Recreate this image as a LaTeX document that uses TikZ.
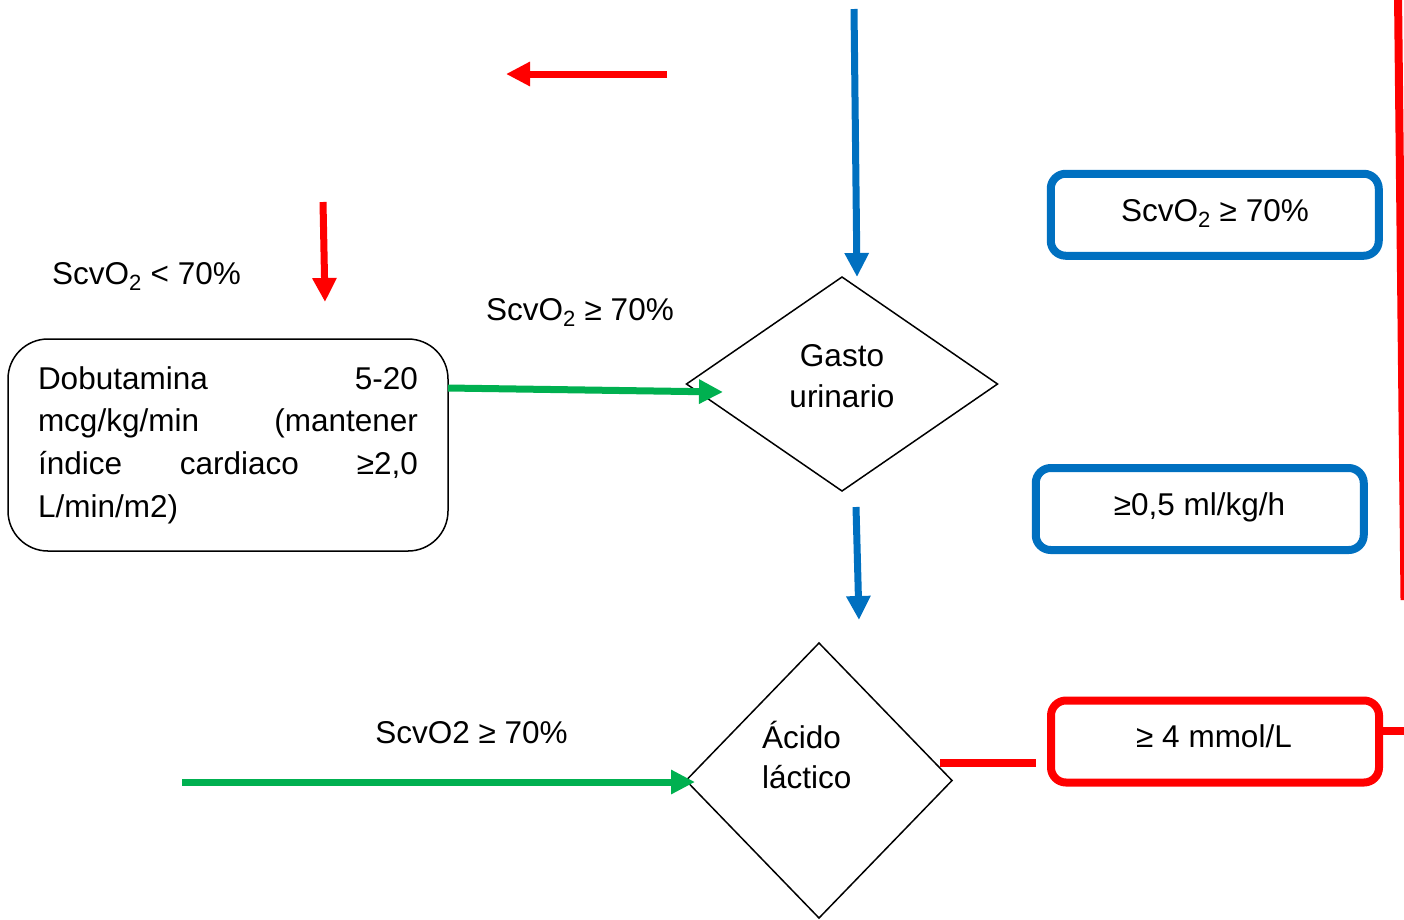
\documentclass[tikz,border=0pt]{standalone}
\usepackage{fontspec}
\setmainfont{Liberation Sans}
\usetikzlibrary{arrows.meta,shapes.geometric}
\definecolor{pblue}{RGB}{0,112,192}
\definecolor{pgreen}{RGB}{0,176,80}
\definecolor{pred}{RGB}{255,0,0}

\begin{document}
\begin{tikzpicture}[x=1pt,y=-1pt,
  txt/.style={font=\fontsize{31.5}{42.7}\selectfont, inner sep=0pt},
  conn/.style={line width=7pt, -{Triangle[length=24pt,width=23pt]}},
  decision/.style={draw, diamond, line width=1.5pt, inner sep=0pt, outer sep=0pt},
  condbox/.style={draw, line width=8pt, rounded corners=15pt, fill=white,
                  minimum width=328pt, minimum height=82pt, inner sep=0pt},
  plain/.style={line width=8pt}]
\useasboundingbox (0,0) rectangle (1404,919);

% decision diamonds
\node[decision, minimum width=311pt, minimum height=214pt] (gasto) at (842,384) {};
\node[txt, anchor=base] (gasto1) at (842,366) {Gasto};
\node[txt, anchor=base] (gasto2) at (842,407) {urinario};

\node[decision, minimum width=266pt, minimum height=275pt] (acido) at (819,780.5) {};
\node[txt, anchor=base west] (acido1) at (762,748) {Ácido};
\node[txt, anchor=base west] (acido2) at (762,788) {láctico};

% treatment box
\node[draw, line width=1.5pt, rounded corners=40pt, minimum width=440pt,
      minimum height=212pt, text width=380pt, inner sep=0pt, txt]
  (dobu) at (228,445)
  {\noindent Dobutamina\hfill 5-20\\
   mcg/kg/min\hfill (mantener\\
   índice\hfill cardiaco\hfill ≥2,0\\
   L/min/m2)};

% threshold boxes, with their texts set a little above centre
\node[condbox, draw=pblue] (sat) at (1214.75,214.75) {};
\node[txt, anchor=base] (sattxt) at (1215,221) {ScvO\textsubscript{2} ≥ 70\%};
\node[condbox, draw=pblue] (diur) at (1199.75,509) {};
\node[txt, anchor=base] (diurtxt) at (1199.5,515) {≥0,5 ml/kg/h};
\node[condbox, draw=pred] (lact) at (1215,741.5) {};
\node[txt, anchor=base] (lacttxt) at (1214,747) {≥ 4 mmol/L};

% free labels
\node[txt, anchor=base] (lowlbl) at (146.5,284) {ScvO\textsubscript{2} < 70\%};
\node[txt, anchor=base] (highlbl) at (580,320) {ScvO\textsubscript{2} ≥ 70\%};
\node[txt, anchor=base] (highlbl2) at (471.5,743) {ScvO2 ≥ 70\%};

% connector end points
\coordinate (redtail) at (667,74);
\coordinate (redtip) at (506,74);
\coordinate (bluetop) at (854,9);
\coordinate (bluetip) at (857,277);
\coordinate (reddowntail) at (323,202);
\coordinate (reddowntip) at (325,302);
\coordinate (greenstart) at (448,388);
\coordinate (greentip) at (723,392);
\coordinate (bluemidtail) at (856,507);
\coordinate (bluemidtip) at (859,620);
\coordinate (greenstart2) at (182,782);
\coordinate (greentip2) at (695,782);
\coordinate (lactin) at (940,762.5);
\coordinate (lactout) at (1036,762.5);
\coordinate (edgetop) at (1398,-5);
\coordinate (edgebottom) at (1404.5,600);
\coordinate (lactright) at (1383,731);
\coordinate (edgeright) at (1410,731);

% connectors
\draw[conn, pred] (redtail) -- (redtip);
\draw[conn, pblue] (bluetop) -- (bluetip);
\draw[conn, pred] (reddowntail) -- (reddowntip);
\draw[conn, pgreen] (greenstart) -- (greentip);
\draw[conn, pblue] (bluemidtail) -- (bluemidtip);
\draw[conn, pgreen] (greenstart2) -- (greentip2);
\draw[plain, pred] (lactin) -- (lactout);
\draw[plain, pred] (edgetop) -- (edgebottom);
\draw[plain, pred] (lactright) -- (edgeright);
\end{tikzpicture}
\end{document}
